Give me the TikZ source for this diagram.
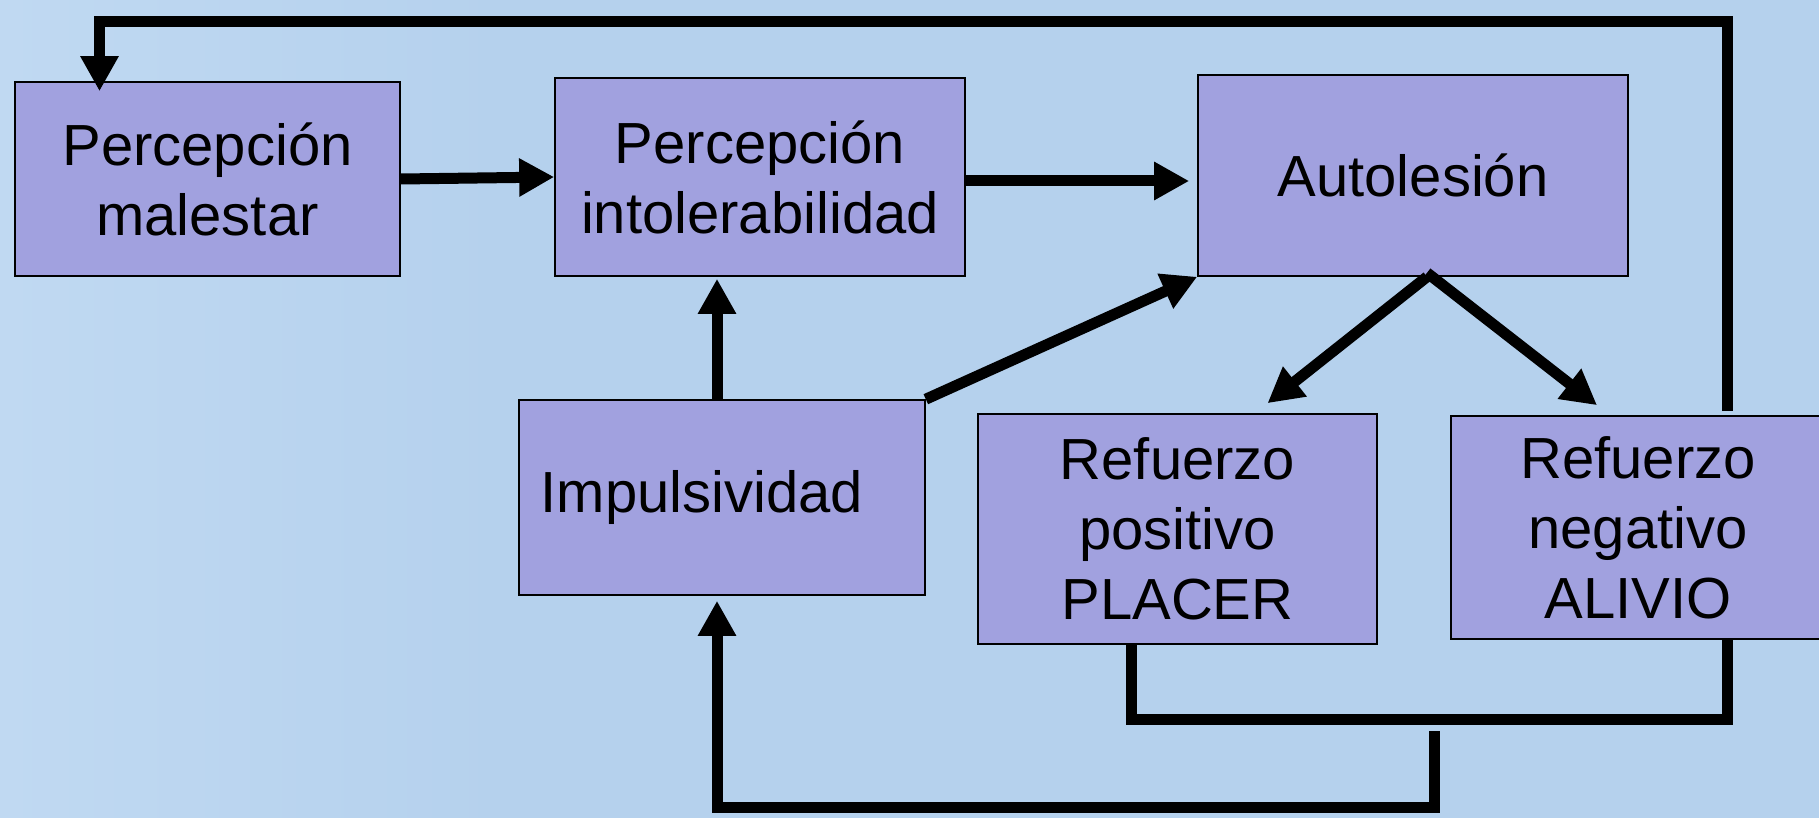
\documentclass[tikz,border=0pt]{standalone}
\usepackage{fontspec}
\setmainfont{Liberation Sans}
\usetikzlibrary{arrows.meta}
\definecolor{bgblue}{RGB}{181,209,237}
\definecolor{bglight}{RGB}{192,217,242}
\definecolor{boxfill}{RGB}{161,161,223}
\tikzset{
  box/.style={draw=black, line width=0.8pt, fill=boxfill, inner sep=0pt, align=center,
    font=\fontsize{29pt}{35pt}\selectfont},
  conn/.style={line width=5.5pt, draw=black},
  arr/.style={conn, -{Triangle[length=17.5pt,width=18pt]}},
}
\begin{document}
\begin{tikzpicture}[x=0.5pt,y=-0.5pt]
\useasboundingbox (0,0) rectangle (1819,818);
\clip (0,0) rectangle (1819,818);
\shade[left color=bglight, right color=bgblue] (0,0) rectangle (500,818);
\fill[bgblue] (500,0) rectangle (1819,818);

\node[box, minimum width=192.5pt, minimum height=97pt] (b1) at (207.5,179) {Percepción\\malestar};
\node[box, minimum width=205pt, minimum height=99pt] (b2) at (760,177) {Percepción\\intolerabilidad};
\node[box, minimum width=215pt, minimum height=100.5pt] (b3) at (1413,175.5) {Autolesión};
\node[box, minimum width=203pt, minimum height=97.5pt] (b4) at (722,497.5) {Impulsividad\hspace*{20pt}};
\node[box, minimum width=199.5pt, minimum height=115pt] (b5) at (1177.5,529) {Refuerzo\\positivo\\PLACER};
\node[box, minimum width=187pt, minimum height=111.5pt] (b6) at (1638,527.5) {Refuerzo\\negativo\\ALIVIO};

\coordinate (topy) at (0,22);
\coordinate (by) at (0,719);
\coordinate (boty) at (0,807);
\coordinate (fb) at (1434,731);
\coordinate (c3) at ([xshift=7pt]b3.south);
\coordinate (a23) at ([yshift=-2pt]b2.east);

% horizontal arrows
\draw[arr] (b1.east) -- (b2.west);
\draw[arr] (a23) -- ([xshift=-4pt]a23 -| b3.west);
% impulsividad arrows
\draw[arr] ([xshift=-2.5pt]b4.north) -- ([xshift=-2.5pt,yshift=-1pt]b4.north |- b2.south);
\draw[arr] (b4.north east) -- (b3.south west);
% autolesion to refuerzos
\draw[arr] (c3) -- ([xshift=45pt,yshift=5pt]b5.north);
\draw[arr] ([yshift=2pt]c3) -- ([xshift=-20.5pt,yshift=5pt]b6.north);
% top loop
\draw[arr, line join=miter] ([xshift=44.5pt,yshift=2pt]b6.north) |- ([xshift=-54pt]b1.north |- topy) -- ([xshift=-54pt,yshift=-5pt]b1.north);
% bottom bracket
\draw[conn, line join=miter] ([xshift=-23pt]b5.south) |- ([xshift=44.5pt]b6.south |- by) -- ([xshift=44.5pt]b6.south);
% bottom loop
\draw[arr, line join=miter] (fb) |- ([xshift=-2.5pt]b4.south |- boty) -- ([xshift=-2.5pt,yshift=-2.5pt]b4.south);
\end{tikzpicture}
\end{document}
